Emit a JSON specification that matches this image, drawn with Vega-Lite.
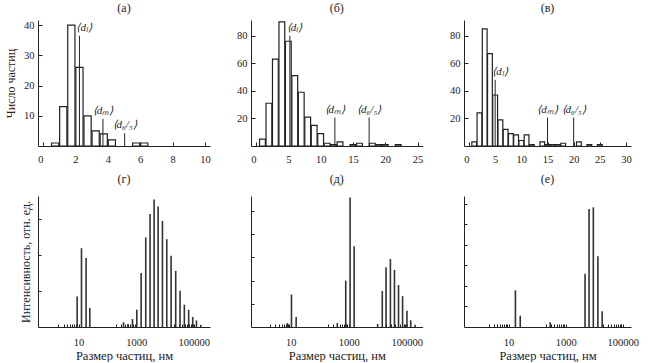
{
  "$schema": "https://vega.github.io/schema/vega-lite/v6.json",
  "padding": {"left": 4, "top": 2, "right": 2, "bottom": 0},
  "background": "white",
  "config": {
    "view": {"stroke": null},
    "font": "Liberation Serif",
    "axis": {"grid": false, "labelFont": "Liberation Serif", "titleFont": "Liberation Serif", "labelFontSize": 10.5, "titleFontSize": 12, "titleFontWeight": "normal", "labelColor": "#222", "titleColor": "#222", "domainColor": "#222", "tickColor": "#222", "labelOverlap": false},
    "axisX": {"labelOverlap": false},
    "title": {"font": "Liberation Serif", "fontSize": 12, "fontWeight": "normal", "color": "#222", "offset": 5}
  },
  "columns": 3,
  "spacing": {"row": 50, "column": 41},
  "bounds": "flush",
  "align": "each",
  "concat": [
    {
      "width": 172, "height": 126,
      "title": "(а)",
      "encoding": {
        "x": {"field": "d", "type": "quantitative", "scale": {"domain": [0, 10], "nice": false},
          "axis": {"values": [0, 2, 4, 6, 8, 10], "tickSize": -4, "labelPadding": 12, "title": null, "labelOverlap": false,
            "labelAlign": {"condition": {"test": "datum.value === 0", "value": "right"}, "value": "center"},
            "labelExpr": "datum.value === 0 ? '0\u00a0\u00a0' : datum.label"}}
      },
      "layer": [
        {
          "data": {"values": [
            {"d": 0.75, "n": 1}, {"d": 1.25, "n": 13}, {"d": 1.75, "n": 40}, {"d": 2.25, "n": 26}, {"d": 2.75, "n": 10},
            {"d": 3.25, "n": 5}, {"d": 3.75, "n": 4}, {"d": 4.25, "n": 2}, {"d": 5.75, "n": 1}, {"d": 6.25, "n": 1}
          ]},
          "mark": {"type": "bar", "fill": "white", "stroke": "#222", "strokeWidth": 1.2, "width": 7.2},
          "encoding": {
            "y": {"field": "n", "type": "quantitative", "scale": {"domain": [0, 41.7], "nice": false},
              "axis": {"values": [10, 20, 30, 40], "tickSize": -4, "labelPadding": 8, "labelOverlap": false, "title": "Число частиц", "titlePadding": 6}}
          }
        },
        {
          "data": {"values": [
            {"d": 2.25, "h": 36.5, "k": "l", "lab": "⟨dₗ⟩"},
            {"d": 3.7, "h": 9, "k": "m", "lab": "⟨dₘ⟩"},
            {"d": 5.04, "h": 4.2, "k": "m", "lab": "⟨d₆/₅⟩"}
          ]},
          "layer": [
            {"mark": {"type": "rule", "stroke": "#222", "strokeWidth": 1}, "encoding": {"y": {"field": "h", "type": "quantitative"}, "y2": {"datum": 0}}},
            {"transform": [{"filter": "datum.k === 'l'"}], "mark": {"type": "text", "align": "left", "baseline": "bottom", "dx": -3, "dy": -3, "fontSize": 11, "fontStyle": "italic", "color": "#222"}, "encoding": {"y": {"field": "h", "type": "quantitative"}, "text": {"field": "lab"}}},
            {"transform": [{"filter": "datum.k !== 'l'"}], "mark": {"type": "text", "align": "center", "baseline": "bottom", "dy": -3, "fontSize": 11, "fontStyle": "italic", "color": "#222"}, "encoding": {"y": {"field": "h", "type": "quantitative"}, "text": {"field": "lab"}}}
          ]
        }
      ]
    },
    {
      "width": 171.6, "height": 126,
      "title": "(б)",
      "encoding": {
        "x": {"field": "d", "type": "quantitative", "scale": {"domain": [0, 25], "nice": false},
          "axis": {"values": [0, 5, 10, 15, 20, 25], "tickSize": -4, "labelPadding": 12, "title": null, "labelOverlap": false,
            "labelAlign": {"condition": {"test": "datum.value === 0", "value": "right"}, "value": "center"},
            "labelExpr": "datum.value === 0 ? '0\u00a0\u00a0' : datum.label"}}
      },
      "layer": [
        {
          "data": {"values": [
            {"d": 1, "n": 5}, {"d": 2, "n": 31}, {"d": 3, "n": 63}, {"d": 4, "n": 90}, {"d": 5, "n": 76},
            {"d": 6, "n": 51}, {"d": 7, "n": 39}, {"d": 8, "n": 21}, {"d": 9, "n": 15}, {"d": 10, "n": 9},
            {"d": 11, "n": 2}, {"d": 12, "n": 1}, {"d": 13, "n": 3}, {"d": 15, "n": 1}, {"d": 16, "n": 2},
            {"d": 18, "n": 2}, {"d": 19, "n": 1}, {"d": 20, "n": 1}, {"d": 22, "n": 1}
          ]},
          "mark": {"type": "bar", "fill": "white", "stroke": "#222", "strokeWidth": 1.2, "width": 5.8},
          "encoding": {
            "y": {"field": "n", "type": "quantitative", "scale": {"domain": [0, 91.4], "nice": false},
              "axis": {"values": [20, 40, 60, 80], "tickSize": -4, "labelPadding": 8, "labelOverlap": false, "title": null}}
          }
        },
        {
          "data": {"values": [
            {"d": 5.24, "h": 80, "k": "l", "lab": "⟨dₗ⟩"},
            {"d": 12.2, "h": 20.6, "k": "m", "lab": "⟨dₘ⟩"},
            {"d": 17.5, "h": 20.6, "k": "m", "lab": "⟨d₆/₅⟩"}
          ]},
          "layer": [
            {"mark": {"type": "rule", "stroke": "#222", "strokeWidth": 1}, "encoding": {"y": {"field": "h", "type": "quantitative"}, "y2": {"datum": 0}}},
            {"transform": [{"filter": "datum.k === 'l'"}], "mark": {"type": "text", "align": "left", "baseline": "bottom", "dx": -3, "dy": -3, "fontSize": 11, "fontStyle": "italic", "color": "#222"}, "encoding": {"y": {"field": "h", "type": "quantitative"}, "text": {"field": "lab"}}},
            {"transform": [{"filter": "datum.k !== 'l'"}], "mark": {"type": "text", "align": "center", "baseline": "bottom", "dy": -3, "fontSize": 11, "fontStyle": "italic", "color": "#222"}, "encoding": {"y": {"field": "h", "type": "quantitative"}, "text": {"field": "lab"}}}
          ]
        }
      ]
    },
    {
      "width": 167, "height": 126,
      "title": "(в)",
      "encoding": {
        "x": {"field": "d", "type": "quantitative", "scale": {"domain": [0, 30], "nice": false},
          "axis": {"values": [0, 5, 10, 15, 20, 25, 30], "tickSize": -4, "labelPadding": 12, "title": null, "labelOverlap": false,
            "labelAlign": {"condition": {"test": "datum.value === 0", "value": "right"}, "value": "center"},
            "labelExpr": "datum.value === 0 ? '0\u00a0\u00a0' : datum.label"}}
      },
      "layer": [
        {
          "data": {"values": [
            {"d": 1, "n": 3}, {"d": 2, "n": 24}, {"d": 3, "n": 85}, {"d": 4, "n": 67}, {"d": 5, "n": 37},
            {"d": 6, "n": 19}, {"d": 7, "n": 12}, {"d": 8, "n": 9}, {"d": 9, "n": 8}, {"d": 10, "n": 4},
            {"d": 11, "n": 8}, {"d": 12, "n": 1}, {"d": 14, "n": 3}, {"d": 15, "n": 1}, {"d": 16, "n": 1},
            {"d": 17, "n": 1}, {"d": 18, "n": 2}, {"d": 21, "n": 3}, {"d": 23, "n": 1}, {"d": 25, "n": 1}
          ]},
          "mark": {"type": "bar", "fill": "white", "stroke": "#222", "strokeWidth": 1.2, "width": 4.8},
          "encoding": {
            "y": {"field": "n", "type": "quantitative", "scale": {"domain": [0, 91.4], "nice": false},
              "axis": {"values": [20, 40, 60, 80], "tickSize": -4, "labelPadding": 8, "labelOverlap": false, "title": null}}
          }
        },
        {
          "data": {"values": [
            {"d": 5.0, "h": 48, "k": "l", "lab": "⟨dₗ⟩"},
            {"d": 15.0, "h": 20.6, "k": "m", "lab": "⟨dₘ⟩"},
            {"d": 20.0, "h": 20.6, "k": "m", "lab": "⟨d₆/₅⟩"}
          ]},
          "layer": [
            {"mark": {"type": "rule", "stroke": "#222", "strokeWidth": 1}, "encoding": {"y": {"field": "h", "type": "quantitative"}, "y2": {"datum": 0}}},
            {"transform": [{"filter": "datum.k === 'l'"}], "mark": {"type": "text", "align": "left", "baseline": "bottom", "dx": -3, "dy": -3, "fontSize": 11, "fontStyle": "italic", "color": "#222"}, "encoding": {"y": {"field": "h", "type": "quantitative"}, "text": {"field": "lab"}}},
            {"transform": [{"filter": "datum.k !== 'l'"}], "mark": {"type": "text", "align": "center", "baseline": "bottom", "dy": -3, "fontSize": 11, "fontStyle": "italic", "color": "#222"}, "encoding": {"y": {"field": "h", "type": "quantitative"}, "text": {"field": "lab"}}}
          ]
        }
      ]
    },
    {
      "width": 172, "height": 131,
      "title": {"text": "(г)", "offset": 10},
      "data": {"values": [
        {"s": 8.9, "v": 0.85}, {"s": 12.6, "v": 2.19}, {"s": 18.2, "v": 1.92}, {"s": 24.5, "v": 0.53},
        {"s": 363, "v": 0.13}, {"s": 513, "v": 0.08}, {"s": 741, "v": 0.22}, {"s": 1047, "v": 0.48},
        {"s": 1479, "v": 1.5}, {"s": 2138, "v": 2.49}, {"s": 3020, "v": 3.14}, {"s": 4169, "v": 3.54},
        {"s": 5754, "v": 3.35}, {"s": 8128, "v": 2.95}, {"s": 11482, "v": 2.44}, {"s": 16218, "v": 1.98},
        {"s": 23442, "v": 1.56}, {"s": 33113, "v": 1.01}, {"s": 46774, "v": 0.62}, {"s": 66069, "v": 0.48},
        {"s": 91201, "v": 0.28}, {"s": 123027, "v": 0.18}, {"s": 173780, "v": 0.06}
      ]},
      "mark": {"type": "rule", "stroke": "#333", "strokeWidth": 1.6},
      "encoding": {
        "x": {"field": "s", "type": "quantitative", "scale": {"type": "log", "domain": [0.39, 363000], "nice": false},
          "axis": {"values": [2,3,4,5,6,7,8,9,10,200,300,400,500,600,700,800,900,1000,20000,30000,40000,50000,60000,70000,80000,90000,100000],
            "tickSize": -3, "labelPadding": 13, "labelOverlap": false, "title": "Размер частиц, нм", "titlePadding": 2, "titleFontSize": 12.5,
            "labelExpr": "datum.value == 10 ? '10' : datum.value == 1000 ? '1000' : datum.value == 100000 ? '100000' : ''"}},
        "y": {"field": "v", "type": "quantitative", "scale": {"domain": [0, 3.64], "nice": false},
          "axis": {"values": [1, 2, 3], "tickSize": -3, "labels": false, "title": "Интенсивность, отн. ед.", "titlePadding": 5}},
        "y2": {"datum": 0}
      }
    },
    {
      "width": 171.6, "height": 131,
      "title": {"text": "(д)", "offset": 10},
      "data": {"values": [
        {"s": 7.8, "v": 0.17}, {"s": 10.7, "v": 1.4}, {"s": 15.5, "v": 0.43},
        {"s": 407, "v": 0.17}, {"s": 794, "v": 2.0}, {"s": 1122, "v": 5.58}, {"s": 1549, "v": 3.48},
        {"s": 10000, "v": 0.13}, {"s": 14454, "v": 1.55}, {"s": 19498, "v": 2.58}, {"s": 27542, "v": 2.93},
        {"s": 38019, "v": 2.46}, {"s": 52481, "v": 1.81}, {"s": 72444, "v": 1.33}, {"s": 102329, "v": 0.7},
        {"s": 138038, "v": 0.29}, {"s": 194984, "v": 0.1}
      ]},
      "mark": {"type": "rule", "stroke": "#333", "strokeWidth": 1.6},
      "encoding": {
        "x": {"field": "s", "type": "quantitative", "scale": {"type": "log", "domain": [0.43, 355000], "nice": false},
          "axis": {"values": [2,3,4,5,6,7,8,9,10,200,300,400,500,600,700,800,900,1000,20000,30000,40000,50000,60000,70000,80000,90000,100000],
            "tickSize": -3, "labelPadding": 13, "labelOverlap": false, "title": "Размер частиц, нм", "titlePadding": 2, "titleFontSize": 12.5,
            "labelExpr": "datum.value == 10 ? '10' : datum.value == 1000 ? '1000' : datum.value == 100000 ? '100000' : ''"}},
        "y": {"field": "v", "type": "quantitative", "scale": {"domain": [0, 5.65], "nice": false},
          "axis": {"values": [1, 2, 3, 4, 5], "tickSize": -3, "labels": false, "title": null}},
        "y2": {"datum": 0}
      }
    },
    {
      "width": 167, "height": 131,
      "title": {"text": "(е)", "offset": 10},
      "data": {"values": [
        {"s": 17.4, "v": 1.79}, {"s": 25.7, "v": 0.55}, {"s": 288, "v": 0.23},
        {"s": 4786, "v": 2.6}, {"s": 6607, "v": 5.76}, {"s": 9333, "v": 5.84}, {"s": 13490, "v": 3.45}, {"s": 19055, "v": 0.77}
      ]},
      "mark": {"type": "rule", "stroke": "#333", "strokeWidth": 1.6},
      "encoding": {
        "x": {"field": "s", "type": "quantitative", "scale": {"type": "log", "domain": [0.275, 195000], "nice": false},
          "axis": {"values": [2,3,4,5,6,7,8,9,10,200,300,400,500,600,700,800,900,1000,20000,30000,40000,50000,60000,70000,80000,90000,100000],
            "tickSize": -3, "labelPadding": 13, "labelOverlap": false, "title": "Размер частиц, нм", "titlePadding": 2, "titleFontSize": 12.5,
            "labelExpr": "datum.value == 10 ? '10' : datum.value == 1000 ? '1000' : datum.value == 100000 ? '100000' : ''"}},
        "y": {"field": "v", "type": "quantitative", "scale": {"domain": [0, 6.39], "nice": false},
          "axis": {"values": [1, 2, 3, 4, 5, 6], "tickSize": -3, "labels": false, "title": null}},
        "y2": {"datum": 0}
      }
    }
  ]
}
